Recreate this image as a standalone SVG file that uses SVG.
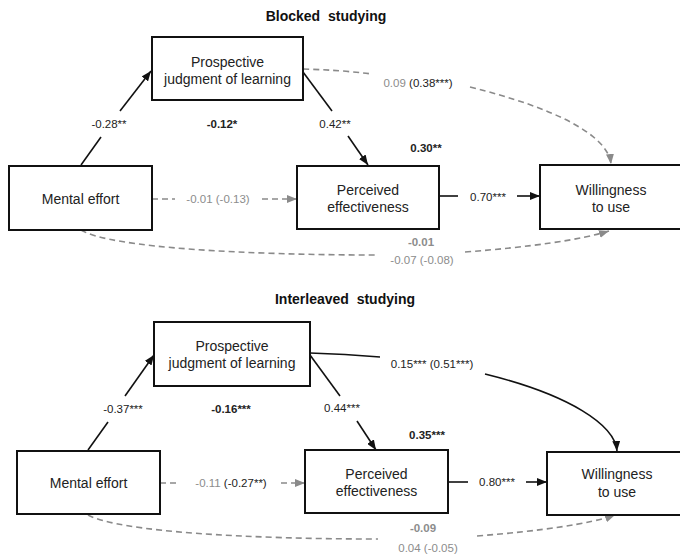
<svg xmlns="http://www.w3.org/2000/svg" width="680" height="555" viewBox="0 0 680 555">
<style>
text{font-family:"Liberation Sans",Arial,sans-serif;}
.box{fill:#fff;stroke:#111;stroke-width:2;}
.nt{font-size:14px;fill:#222;text-anchor:middle;}
.title{font-size:14px;font-weight:bold;fill:#111;text-anchor:middle;}
.lbl{font-size:11.5px;fill:#222;text-anchor:middle;}
.b{font-weight:bold;}
.g{fill:#8c8c8c;}
.dk{fill:#222;}
.sol{fill:none;stroke:#111;stroke-width:1.6;}
.das{fill:none;stroke:#8a8a8a;stroke-width:1.6;stroke-dasharray:6 4;}
</style>
<defs>
<marker id="ab" markerUnits="userSpaceOnUse" markerWidth="10" markerHeight="8" refX="10" refY="4" orient="auto"><path d="M0,0 L10,4 L0,8 z" fill="#111"/></marker>
<marker id="ag" markerUnits="userSpaceOnUse" markerWidth="10" markerHeight="8" refX="10" refY="4" orient="auto"><path d="M0,0 L10,4 L0,8 z" fill="#8a8a8a"/></marker>
</defs>
<rect width="680" height="555" fill="#fff"/>

<text class="title" x="326" y="21">Blocked&#xA0; studying</text>
<text class="title" x="345" y="304">Interleaved&#xA0; studying</text>

<g id="connectors">
<!-- top panel -->
<path class="sol" d="M81,165 L101,137"/>
<path class="sol" d="M120,111 L151,71" marker-end="url(#ab)"/>
<path class="sol" d="M303,72 L332,111"/>
<path class="sol" d="M348,136 L368,165" marker-end="url(#ab)"/>
<path class="das" d="M152,199 L175,199"/>
<path class="das" d="M262,199 L297,199" marker-end="url(#ag)"/>
<path class="sol" d="M439,196 L458,196"/>
<path class="sol" d="M517,196 L540,196" marker-end="url(#ab)"/>
<path class="das" d="M303,69 Q340,70 372,74"/>
<path class="das" d="M470,87 C555,108 608,135 611,164" marker-end="url(#ag)"/>
<path class="das" d="M81,230 C110,248 250,255 377,255"/>
<path class="das" d="M465,252 C530,247 580,240 609,231" marker-end="url(#ag)"/>
<!-- bottom panel -->
<path class="sol" d="M88,450 L108,422"/>
<path class="sol" d="M125,396 L154,355" marker-end="url(#ab)"/>
<path class="sol" d="M310,355 L340,396"/>
<path class="sol" d="M357,421 L376,450" marker-end="url(#ab)"/>
<path class="das" d="M160,483 L180,483"/>
<path class="das" d="M281,483 L305,483" marker-end="url(#ag)"/>
<path class="sol" d="M448,482 L468,482"/>
<path class="sol" d="M526,482 L547,482" marker-end="url(#ab)"/>
<path class="sol" d="M310,353 Q345,354 380,357"/>
<path class="sol" d="M485,374 C570,395 615,425 617,451" marker-end="url(#ab)"/>
<path class="das" d="M88,515 C120,532 250,539 378,539"/>
<path class="das" d="M477,536 C540,531 590,524 615,515" marker-end="url(#ag)"/>
</g>

<g id="labels">
<text class="lbl" x="109" y="128">-0.28**</text>
<text class="lbl b" x="222" y="128">-0.12*</text>
<text class="lbl" x="335" y="128">0.42**</text>
<text class="lbl b" x="426" y="152">0.30**</text>
<text class="lbl g" x="218" y="203">-0.01 (-0.13)</text>
<text class="lbl" x="418" y="87"><tspan class="g">0.09</tspan> <tspan class="dk">(0.38***)</tspan></text>
<text class="lbl" x="488" y="201">0.70***</text>
<text class="lbl b g" x="421" y="246">-0.01</text>
<text class="lbl g" x="422" y="264">-0.07 (-0.08)</text>

<text class="lbl" x="123" y="413">-0.37***</text>
<text class="lbl b" x="231" y="413">-0.16***</text>
<text class="lbl" x="342" y="412">0.44***</text>
<text class="lbl b" x="427" y="439">0.35***</text>
<text class="lbl" x="231" y="487"><tspan class="g">-0.11</tspan> <tspan class="dk">(-0.27**)</tspan></text>
<text class="lbl" x="432" y="368">0.15*** (0.51***)</text>
<text class="lbl" x="497" y="486">0.80***</text>
<text class="lbl b g" x="423" y="532">-0.09</text>
<text class="lbl g" x="428" y="552">0.04 (-0.05)</text>
</g>

<g id="pjol-blocked"><rect class="box" x="152" y="37" width="151" height="63"/><text class="nt" x="227.5" y="67">Prospective</text><text class="nt" x="227.5" y="84">judgment of learning</text></g>
<g id="effort-blocked"><rect class="box" x="9" y="166" width="143" height="64"/><text class="nt" x="80.5" y="204">Mental effort</text></g>
<g id="perceived-blocked"><rect class="box" x="297" y="166" width="142" height="63"/><text class="nt" x="368" y="195">Perceived</text><text class="nt" x="368" y="212">effectiveness</text></g>
<g id="willing-blocked"><rect class="box" x="540" y="165" width="145" height="64"/><text class="nt" x="611" y="195">Willingness</text><text class="nt" x="611" y="212">to use</text></g>

<g id="pjol-interleaved"><rect class="box" x="154" y="322" width="156" height="64"/><text class="nt" x="232" y="351">Prospective</text><text class="nt" x="232" y="368">judgment of learning</text></g>
<g id="effort-interleaved"><rect class="box" x="17" y="451" width="143" height="63"/><text class="nt" x="88.5" y="488">Mental effort</text></g>
<g id="perceived-interleaved"><rect class="box" x="305" y="450" width="143" height="63"/><text class="nt" x="376.5" y="479">Perceived</text><text class="nt" x="376.5" y="496">effectiveness</text></g>
<g id="willing-interleaved"><rect class="box" x="547" y="452" width="145" height="63"/><text class="nt" x="617" y="479">Willingness</text><text class="nt" x="617" y="497">to use</text></g>
</svg>
